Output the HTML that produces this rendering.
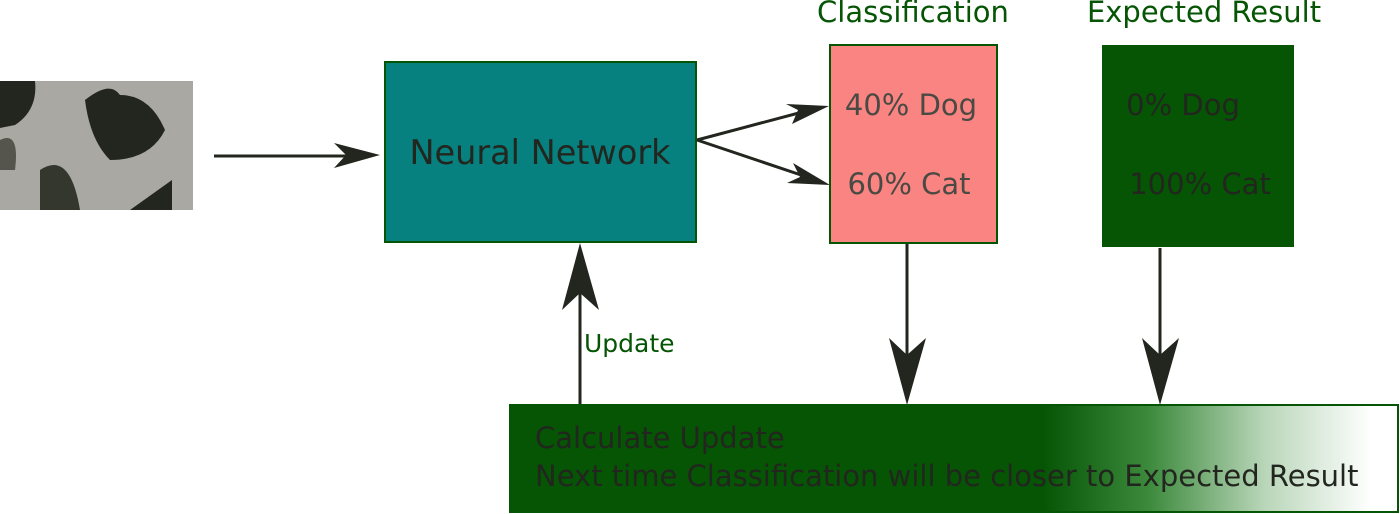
<!DOCTYPE html>
<html><head><style>body{margin:0;background:#fff}svg{display:block}</style></head><body>
<svg width="1400" height="514" viewBox="0 0 1400 514" xmlns="http://www.w3.org/2000/svg" font-family="DejaVu Sans, Liberation Sans, sans-serif">
<defs>
<linearGradient id="g" x1="510" x2="1398" y1="0" y2="0" gradientUnits="userSpaceOnUse">
<stop offset="0.6" stop-color="#055505"/>
<stop offset="0.72" stop-color="#3d8a3d"/>
<stop offset="0.85" stop-color="#b9d6b9"/>
<stop offset="0.97" stop-color="#ffffff"/>
</linearGradient>
</defs>
<rect x="0" y="81" width="193" height="129" fill="#aaa8a2"/>
<path d="M0 81 L35 81 Q38 110 15 125 L0 128Z" fill="#22261e"/>
<path d="M85 100 Q110 80 120 95 Q150 95 165 130 Q150 160 110 160 Q90 140 85 100Z" fill="#22261e"/>
<path d="M40 170 Q70 150 80 210 L40 210Z" fill="#33372e"/>
<path d="M130 210 L172 180 L172 210Z" fill="#22261e"/>
<path d="M0 140 Q20 130 15 170 L0 170Z" fill="#55554e"/>
<line x1="214" y1="156" x2="350" y2="156" stroke="#22261e" stroke-width="3"/>
<path d="M334 143 L380 155 L334 168 L346 155Z" fill="#22261e"/>
<rect x="385" y="62" width="311" height="180" fill="#078080" stroke="#055505" stroke-width="2"/>
<text x="540" y="164" font-size="33.5" fill="#22261e" text-anchor="middle">Neural Network</text>
<line x1="697" y1="140" x2="810" y2="110" stroke="#22261e" stroke-width="3"/>
<path d="M786 104 L829 106 L792 124 L798 110Z" fill="#22261e"/>
<line x1="697" y1="140" x2="810" y2="178" stroke="#22261e" stroke-width="3"/>
<path d="M793 163 L830 185 L787 183 L800 177Z" fill="#22261e"/>
<text x="913" y="22" font-size="29" fill="#055505" text-anchor="middle">Classification</text>
<rect x="830" y="45" width="167" height="198" fill="#fa8481" stroke="#055505" stroke-width="2"/>
<text x="911" y="115" font-size="29" fill="#4a4a44" text-anchor="middle">40% Dog</text>
<text x="909" y="194" font-size="29" fill="#4a4a44" text-anchor="middle">60% Cat</text>
<text x="1204" y="22" font-size="29" fill="#055505" text-anchor="middle">Expected Result</text>
<rect x="1102" y="45" width="192" height="202" fill="#055505"/>
<text x="1183" y="115" font-size="29" fill="#22261e" text-anchor="middle">0% Dog</text>
<text x="1200" y="194" font-size="29" fill="#22261e" text-anchor="middle">100% Cat</text>
<line x1="907" y1="244" x2="907" y2="370" stroke="#22261e" stroke-width="3"/>
<path d="M889 338 L907 405 L926 338 L907 355Z" fill="#22261e"/>
<line x1="1160" y1="248" x2="1160" y2="370" stroke="#22261e" stroke-width="3"/>
<path d="M1142 338 L1160 405 L1179 338 L1160 355Z" fill="#22261e"/>
<line x1="580" y1="405" x2="580" y2="280" stroke="#22261e" stroke-width="3"/>
<path d="M562 310 L580 243 L599 310 L580 293Z" fill="#22261e"/>
<text x="584" y="352" font-size="25" fill="#055505">Update</text>
<rect x="510" y="405" width="888" height="107" fill="url(#g)" stroke="#055505" stroke-width="2"/>
<text x="535" y="448" font-size="29" fill="#22261e">Calculate Update</text>
<text x="535" y="486" font-size="29" fill="#22261e">Next time Classification will be closer to Expected Result</text>
</svg>
</body></html>
